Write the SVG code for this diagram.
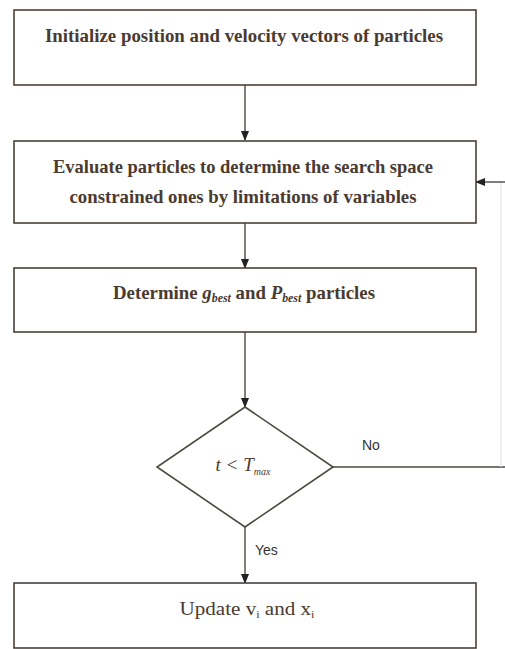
<svg xmlns="http://www.w3.org/2000/svg" width="505" height="649" viewBox="0 0 505 649">
<style>
.box{fill:#fff;stroke:#4a4038;stroke-width:1.6}
.t{font-family:"Liberation Serif",serif;font-size:19px;fill:#4a3a30;font-weight:bold;text-anchor:middle}
.tn{font-family:"Liberation Serif",serif;font-size:19px;fill:#4a3a30;text-anchor:middle}
.sub{font-size:12px;font-style:italic}
.lbl{font-family:"Liberation Sans",Arial,sans-serif;font-size:14px;fill:#333}
.c{fill:none;stroke:#4a4a40;stroke-width:1.4}
</style>
<defs>
<marker id="ah" markerWidth="10" markerHeight="10" refX="9" refY="5" orient="auto" markerUnits="userSpaceOnUse">
<path d="M0,1 L10,5 L0,9 Z" fill="#222"/>
</marker>
</defs>
<rect width="505" height="649" fill="#fff"/>
<g id="connectors">
<line class="c" x1="245" y1="85" x2="245" y2="140" marker-end="url(#ah)"/>
<line class="c" x1="245" y1="223" x2="245" y2="268" marker-end="url(#ah)"/>
<line class="c" x1="245" y1="332" x2="245" y2="407" marker-end="url(#ah)"/>
<line class="c" x1="245" y1="527" x2="245" y2="583" marker-end="url(#ah)"/>
<line class="c" x1="333" y1="467" x2="505" y2="467"/>
<line x1="501" y1="467" x2="501" y2="182" stroke="#e4e4e4" stroke-width="1.2"/>
<line class="c" x1="505" y1="182" x2="476" y2="182" marker-end="url(#ah)"/>
<text class="lbl" x="362" y="450">No</text>
<text class="lbl" x="255" y="555">Yes</text>
</g>
<g id="n1">
<rect class="box" x="14" y="10" width="462" height="75"/>
<text class="t" x="244" y="42" textLength="398" lengthAdjust="spacingAndGlyphs">Initialize position and velocity vectors of particles</text>
</g>
<g id="n2">
<rect class="box" x="14" y="141" width="462" height="82"/>
<text class="t" x="243" y="173" textLength="380" lengthAdjust="spacingAndGlyphs">Evaluate particles to determine the search space</text>
<text class="t" x="243" y="203" textLength="347" lengthAdjust="spacingAndGlyphs">constrained ones by limitations of variables</text>
</g>
<g id="n3">
<rect class="box" x="14" y="268" width="462" height="64"/>
<text class="t" x="244" y="299" textLength="262" lengthAdjust="spacingAndGlyphs">Determine <tspan font-style="italic">g</tspan><tspan class="sub" dy="3">best</tspan><tspan dy="-3"> and </tspan><tspan font-style="italic">P</tspan><tspan class="sub" dy="3">best</tspan><tspan dy="-3"> particles</tspan></text>
</g>
<g id="n4">
<polygon points="245,407 333,467 245,527 157,467" fill="#fff" stroke="#4a4a40" stroke-width="1.6"/>
<text class="tn" x="243" y="471" font-style="italic" font-size="18" fill="#555">t &lt; T<tspan font-size="10" dy="4">max</tspan></text>
</g>
<g id="n5">
<rect class="box" x="14" y="583" width="462" height="65"/>
<text class="tn" x="247" y="615" textLength="135" lengthAdjust="spacingAndGlyphs">Update v<tspan font-size="11" dy="3">i</tspan><tspan dy="-3"> and x</tspan><tspan font-size="11" dy="3">i</tspan></text>
</g>
</svg>
